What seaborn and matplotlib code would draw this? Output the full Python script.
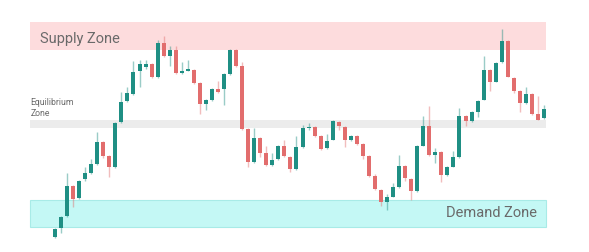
import matplotlib
matplotlib.use("Agg")
import matplotlib.pyplot as plt
import seaborn as sns
import numpy as np
import pandas as pd

# ---- data (price units) ----
opens = [15, 24, 36, 66, 54, 73, 79, 88, 110, 96, 85, 130, 151, 158, 181, 185, 188, 175, 209, 196,
         202, 179, 181.5, 182, 169, 148, 152, 163, 163, 178, 202, 186, 123, 90, 114, 99, 87, 93, 106, 95,
         83, 105, 124, 125, 116, 104, 112, 130, 125, 112, 116, 108, 96, 76, 62, 50, 55, 65, 86, 73,
         61, 106, 126, 97, 100, 77, 85, 95, 136, 131, 140, 152, 182, 170, 190, 211, 174, 161, 149, 158,
         138, 134]
closes = [23, 35, 66, 53, 71, 79, 88, 110, 96, 85, 129, 150, 159, 180, 188, 188, 175, 209, 196, 202,
          179, 181, 183, 169, 148, 152, 163, 160, 178, 202, 186, 123, 90, 114, 99, 87, 92, 106, 96, 83,
          105, 124, 125, 116, 103, 111, 131, 126, 112, 116, 108, 96, 76, 63, 50, 55, 65, 86, 74, 61,
          106, 126, 97, 100, 77, 85, 95, 136, 131, 140, 151, 182, 170, 189, 211, 175, 161, 149, 158, 138,
          132, 143]
highs = [24, 36, 79, 67, 72, 85, 93, 120, 111, 97, 130, 160, 165, 191, 192, 192, 189, 212, 216, 206,
         206, 190, 192, 183, 170, 153, 164, 171, 179, 203, 203, 190, 124, 124, 115, 106, 99, 107, 112, 96,
         116, 127, 129, 126, 117, 118, 132, 131, 126, 117, 117, 109, 97, 78, 63, 58, 69, 97, 87, 74,
         107, 136, 146, 104, 101, 86, 101, 144, 137, 141, 152, 196, 183, 190, 223, 212, 175, 162, 165, 159,
         156, 147]
lows = [14, 19, 35, 45, 53, 71, 78, 87, 94, 75, 84, 129, 150, 157, 165, 183, 174, 174, 195, 186,
        178, 178, 181, 168, 138, 142, 151, 159, 147, 177, 185, 122, 85, 89, 95, 86, 86, 92, 95, 80,
        82, 104, 122, 115, 102, 103, 112, 122, 105, 111, 107, 93, 75, 62, 46, 42, 55, 64, 71, 52,
        60, 106, 96, 89, 70, 76, 85, 94, 126, 130, 135, 152, 161, 170, 189, 175, 159, 140, 148, 137,
        132, 133]

zone_names = ["Supply Zone", "Equilibrium\nZone", "Demand Zone"]
zone_low = [202, 124, 25]
zone_high = [230, 132, 52]

df = pd.DataFrame({"open": opens, "high": highs, "low": lows, "close": closes})
df["idx"] = np.arange(len(df))
df["up"] = df["close"] >= df["open"]

GREEN = "#1f8f84"
RED = "#e26d6d"

sns.set_style("white")
plt.rcParams["font.family"] = ["Roboto", "DejaVu Sans"]

fig = plt.figure(figsize=(5.89, 2.53), dpi=100)
ax = fig.add_axes([0, 0, 1, 1])

# zones
x0, x1 = 30 / 589, 546 / 589
ax.axhspan(zone_low[0], zone_high[0], xmin=x0, xmax=x1, color="#fddcdd", lw=0, zorder=0)
ax.axhspan(zone_low[1], zone_high[1], xmin=x0, xmax=x1, color="#ececec", lw=0, zorder=0)
ax.axhspan(zone_low[2], zone_high[2], xmin=x0, xmax=x1, facecolor="#c4f8f5",
           edgecolor="#a8ebe7", lw=0.8, zorder=0)

colors = np.where(df["up"], GREEN, RED)

# wicks
ax.vlines(df["idx"], df["low"], df["high"], colors=colors, lw=1.0, alpha=0.45, zorder=2)

# bodies
body_bottom = np.minimum(df["open"], df["close"])
body_h = np.maximum(np.abs(df["close"] - df["open"]), 0.9)
ax.bar(df["idx"], body_h, bottom=body_bottom, width=0.66, color=colors, lw=0, zorder=3)

# layout: first candle at x=55px, last at x=544px
n = len(df)
s = (544 - 55) / (n - 1)
ax.set_xlim(-55 / s, (589 - 55) / s)
ax.set_ylim(0, 253)
ax.axis("off")

txt = "#6a6a6a"
ax.text(40 / 589, 1 - 38.5 / 253, zone_names[0], transform=ax.transAxes,
        ha="left", va="center", fontsize=10.5, color=txt)
ax.text(30.5 / 589, 1 - 98 / 253, zone_names[1], transform=ax.transAxes,
        ha="left", va="top", fontsize=6.2, color=txt, linespacing=1.25)
ax.text(537.5 / 589, 1 - 213.5 / 253, zone_names[2], transform=ax.transAxes,
        ha="right", va="center", fontsize=10.5, color=txt)

fig.savefig("out.png", dpi=100)
